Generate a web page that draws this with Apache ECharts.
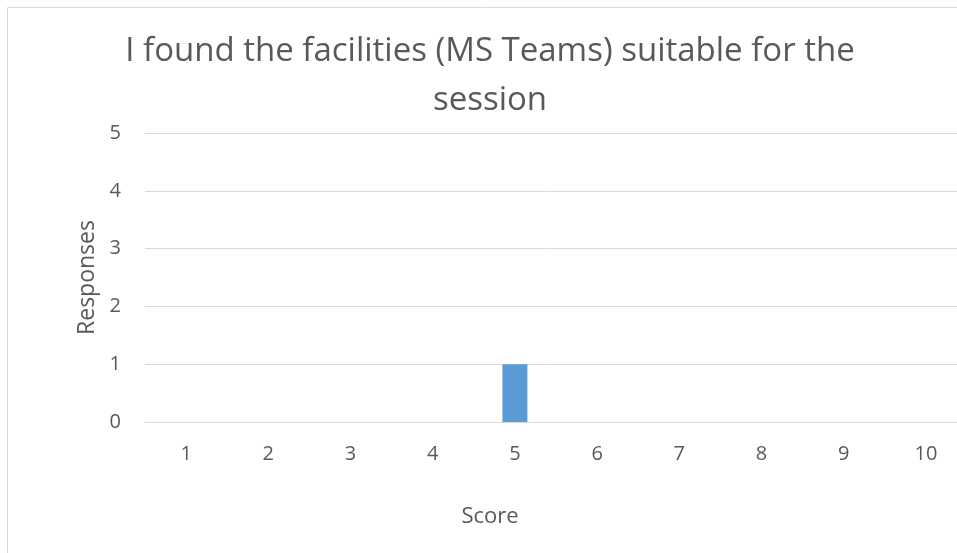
<!DOCTYPE html>
<html>
<head>
<meta charset="utf-8">
<script src="https://cdn.jsdelivr.net/npm/echarts@6/dist/echarts.min.js"></script>
<style>
    html, body { margin: 0; padding: 0; background: #fff; }
    #chart { width: 957px; height: 553px; }
</style>
</head>
<body>
<div id="chart"></div>
<script>
var chartTitle = 'I found the facilities (MS Teams) suitable for the\nsession';
var scores = ['1', '2', '3', '4', '5', '6', '7', '8', '9', '10'];
var responses = [0, 0, 0, 0, 1, 0, 0, 0, 0, 0];
var yName = 'Responses';
var xName = 'Score';

var font = 'Open Sans';
var txt = '#595959';
var line = '#d9d9d9';

var myChart = echarts.init(document.getElementById('chart'));

var option = {
    animation: false,
    title: {
        text: chartTitle,
        left: 485,
        top: 22,
        textAlign: 'center',
        textStyle: {
            fontFamily: font,
            fontSize: 33,
            fontWeight: 'normal',
            color: txt,
            lineHeight: 49
        }
    },
    graphic: [
        {
            type: 'rect',
            shape: { x: 7.5, y: 7.5, width: 1000, height: 1000 },
            style: { fill: 'none', stroke: line, lineWidth: 1 }
        },
        {
            type: 'text',
            x: 490,
            y: 517,
            style: {
                text: xName,
                font: '22px "Open Sans"',
                fill: txt,
                align: 'center',
                verticalAlign: 'middle'
            }
        }
    ],
    // the plot runs a little past the right edge of the picture
    grid: {
        left: 145,
        width: 822,
        top: 133,
        bottom: 131,
        containLabel: false,
        outerBoundsMode: 'none'
    },
    xAxis: {
        type: 'category',
        data: scores,
        axisLine: { lineStyle: { color: line } },
        axisTick: { show: false },
        axisLabel: {
            color: txt,
            fontFamily: font,
            fontSize: 20,
            margin: 22
        }
    },
    yAxis: {
        type: 'value',
        min: 0,
        max: 5,
        interval: 1,
        name: yName,
        nameLocation: 'middle',
        nameRotate: 90,
        nameGap: 43,
        nameTextStyle: {
            color: txt,
            fontFamily: font,
            fontSize: 23
        },
        axisLine: { show: false },
        axisTick: { show: false },
        axisLabel: {
            color: txt,
            fontFamily: font,
            fontSize: 20,
            margin: 24
        },
        splitLine: { lineStyle: { color: line, width: 1 } }
    },
    series: [{
        type: 'bar',
        data: responses,
        barWidth: 25,
        itemStyle: { color: '#5b9bd5' }
    }]
};

myChart.setOption(option);
</script>
</body>
</html>
